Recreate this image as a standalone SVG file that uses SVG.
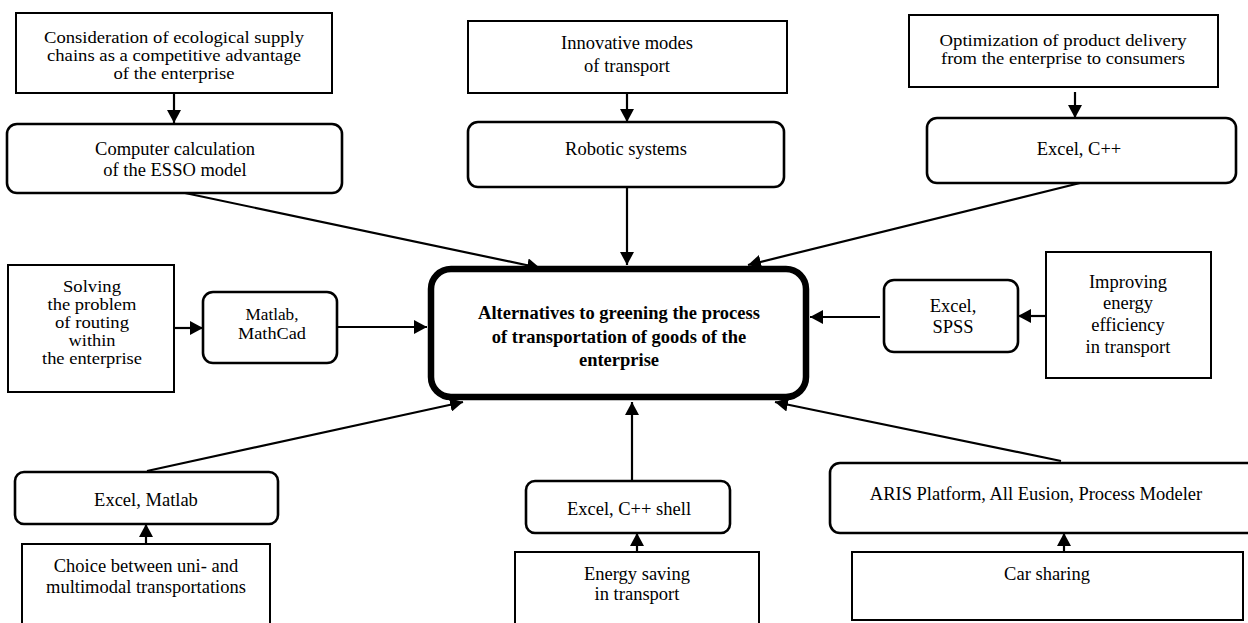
<svg xmlns="http://www.w3.org/2000/svg" width="1248" height="623" viewBox="0 0 1248 623">
<style>
  text { font-family: "Liberation Serif", "Times New Roman", serif; font-size: 18.5px; fill: #000; text-anchor: middle; }
  .b { font-weight: bold; }
  .t { font-size: 17px; }
  .rect { fill: #fff; stroke: #000; stroke-width: 2; }
  .rnd { fill: #fff; stroke: #000; stroke-width: 2.6; }
  .main { fill: #fff; stroke: #000; stroke-width: 6.5; }
  .c { stroke: #000; stroke-width: 2.2; fill: none; marker-end: url(#ah); }
</style>
<defs>
  <marker id="ah" markerUnits="userSpaceOnUse" markerWidth="14" markerHeight="14" refX="13" refY="7" orient="auto">
    <path d="M0,0 L13,7 L0,14 z" fill="#000"/>
  </marker>
</defs>
<rect width="1248" height="623" fill="#fff"/>

<g id="connectors">
  <line class="c" x1="174" y1="93" x2="174" y2="123"/>
  <line class="c" x1="627" y1="93" x2="627" y2="122"/>
  <line class="c" x1="1075" y1="92" x2="1075" y2="118"/>
  <line class="c" x1="174" y1="328" x2="203" y2="328"/>
  <line class="c" x1="1046" y1="316" x2="1018" y2="316"/>
  <line class="c" x1="146" y1="544" x2="146" y2="524"/>
  <line class="c" x1="637" y1="552" x2="637" y2="533"/>
  <line class="c" x1="1064" y1="552" x2="1064" y2="533"/>
  <line class="c" x1="185" y1="193" x2="540" y2="268"/>
  <line class="c" x1="627" y1="187" x2="627" y2="265"/>
  <line class="c" x1="1080" y1="183" x2="748" y2="265"/>
  <line class="c" x1="337" y1="327" x2="427" y2="327"/>
  <line class="c" x1="880" y1="317" x2="810" y2="317"/>
  <line class="c" x1="147" y1="471" x2="463" y2="402"/>
  <line class="c" x1="632" y1="481" x2="632" y2="402"/>
  <line class="c" x1="1061" y1="461" x2="775" y2="402"/>
</g>

<g id="n_main">
  <rect class="main" x="431" y="269" width="375" height="128" rx="20"/>
  <text class="b" x="619" y="319">Alternatives to greening the process</text>
  <text class="b" x="619" y="343">of transportation of goods of the</text>
  <text class="b" x="619" y="366">enterprise</text>
</g>

<g id="n_ecological">
  <rect class="rect" x="16" y="13" width="316" height="80"/>
  <text class="t" x="174" y="43" textLength="260" lengthAdjust="spacingAndGlyphs">Consideration of ecological supply</text>
  <text class="t" x="174" y="61" textLength="254" lengthAdjust="spacingAndGlyphs">chains as a competitive advantage</text>
  <text class="t" x="174" y="79" textLength="121" lengthAdjust="spacingAndGlyphs">of the enterprise</text>
</g>
<g id="n_esso">
  <rect class="rnd" x="7" y="124" width="335" height="69" rx="10"/>
  <text x="175" y="155">Computer calculation</text>
  <text x="175" y="176">of the ESSO model</text>
</g>

<g id="n_innovative">
  <rect class="rect" x="468" y="21" width="319" height="72"/>
  <text x="627" y="49">Innovative modes</text>
  <text x="627" y="72">of transport</text>
</g>
<g id="n_robotic">
  <rect class="rnd" x="468" y="122" width="316" height="65" rx="10"/>
  <text x="626" y="155">Robotic systems</text>
</g>

<g id="n_optimization">
  <rect class="rect" x="909" y="15" width="309" height="72"/>
  <text class="t" x="1063" y="46" textLength="247" lengthAdjust="spacingAndGlyphs">Optimization of product delivery</text>
  <text class="t" x="1063" y="64" textLength="244" lengthAdjust="spacingAndGlyphs">from the enterprise to consumers</text>
</g>
<g id="n_excelcpp">
  <rect class="rnd" x="927" y="118" width="309" height="65" rx="10"/>
  <text x="1079" y="155">Excel, C++</text>
</g>

<g id="n_routing">
  <rect class="rect" x="8" y="265" width="166" height="127"/>
  <text class="t" x="92" y="292" textLength="58" lengthAdjust="spacingAndGlyphs">Solving</text>
  <text class="t" x="92" y="310" textLength="89" lengthAdjust="spacingAndGlyphs">the problem</text>
  <text class="t" x="92" y="328" textLength="74" lengthAdjust="spacingAndGlyphs">of routing</text>
  <text class="t" x="92" y="346" textLength="47" lengthAdjust="spacingAndGlyphs">within</text>
  <text class="t" x="92" y="364" textLength="100" lengthAdjust="spacingAndGlyphs">the enterprise</text>
</g>
<g id="n_matlab_mathcad">
  <rect class="rnd" x="203" y="292" width="134" height="71" rx="10"/>
  <text class="t" x="272" y="320" textLength="53" lengthAdjust="spacingAndGlyphs">Matlab,</text>
  <text class="t" x="272" y="339" textLength="68" lengthAdjust="spacingAndGlyphs">MathCad</text>
</g>

<g id="n_excel_spss">
  <rect class="rnd" x="884" y="280" width="134" height="72" rx="10"/>
  <text x="953" y="312">Excel,</text>
  <text x="953" y="333">SPSS</text>
</g>
<g id="n_energy_eff">
  <rect class="rect" x="1046" y="252" width="165" height="126"/>
  <text x="1128" y="288">Improving</text>
  <text x="1128" y="309">energy</text>
  <text x="1128" y="331">efficiency</text>
  <text x="1128" y="353">in transport</text>
</g>

<g id="n_excel_matlab">
  <rect class="rnd" x="15" y="472" width="263" height="52" rx="9"/>
  <text x="146" y="506">Excel, Matlab</text>
</g>
<g id="n_choice">
  <rect class="rect" x="22" y="544" width="248" height="90"/>
  <text x="146" y="572">Choice between uni- and</text>
  <text x="146" y="593">multimodal transportations</text>
</g>

<g id="n_excel_cpp_shell">
  <rect class="rnd" x="526" y="481" width="204" height="52" rx="9"/>
  <text x="629" y="515">Excel, C++ shell</text>
</g>
<g id="n_energy_saving">
  <rect class="rect" x="515" y="552" width="244" height="80"/>
  <text x="637" y="580">Energy saving</text>
  <text x="637" y="600">in transport</text>
</g>

<g id="n_aris">
  <rect class="rnd" x="830" y="463" width="430" height="70" rx="10"/>
  <text x="1036" y="500">ARIS Platform, All Eusion, Process Modeler</text>
</g>
<g id="n_car_sharing">
  <rect class="rect" x="852" y="552" width="391" height="68"/>
  <text x="1047" y="580">Car sharing</text>
</g>
</svg>
